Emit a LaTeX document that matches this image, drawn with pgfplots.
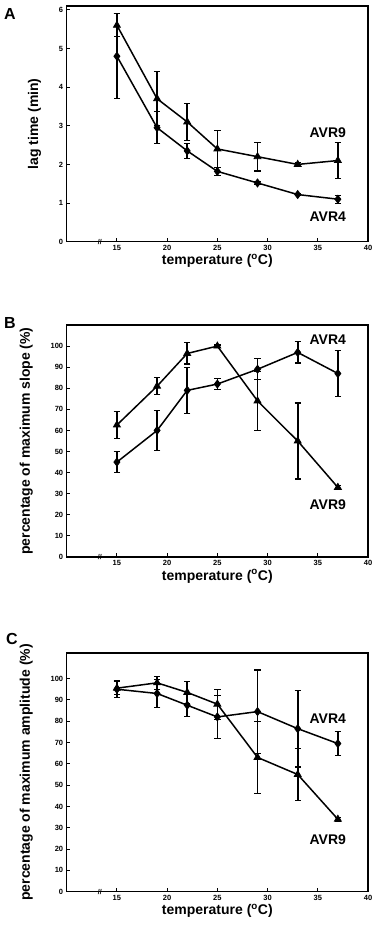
\documentclass[border=0pt]{standalone}
\usepackage{fontspec}
\setmainfont{Liberation Sans}
\usepackage{pgfplots}
\pgfplotsset{compat=1.18}
\pgfplotsset{
 panel/.style={
  scale only axis, width=301.3pt,
  xmin=10, xmax=40,
  xtick={15,20,25,30,35,40},
  tick align=inside,
  tick pos=left,
  major tick length=3.5pt,
  axis line style={line width=1.5pt},
  tick style={line width=1pt, black},
  tick label style={font=\bfseries\fontsize{7.5}{8}\selectfont},
  /pgf/number format/assume math mode=true,
  label style={font=\bfseries\fontsize{14}{16}\selectfont},
  xlabel={temperature (\textsuperscript{o}C)},
  xlabel style={yshift=3pt},
  ylabel style={yshift=11pt},
  clip=false,
 },
 ser/.style={black, line width=1.5pt, mark options={solid, fill=black, line width=0.8pt},
  error bars/y dir=both, error bars/y explicit,
  error bars/error bar style={line width=1.6pt, black},
  error bars/error mark options={rotate=90, mark size=3.2pt, line width=1.1pt, black}},
 tri/.style={ser, mark=triangle*, mark size=4pt},
 dia/.style={ser, mark=diamond*, mark size=4pt},
}
\begin{document}
\begin{tikzpicture}
\useasboundingbox (0pt,0pt) rectangle (373pt,931pt);
\node[font=\bfseries\fontsize{16}{18}\selectfont] at (10pt,917pt) {A};
\node[font=\bfseries\fontsize{16}{18}\selectfont] at (10pt,608pt) {B};
\node[font=\bfseries\fontsize{16}{18}\selectfont] at (12pt,292pt) {C};

% Panel A
\begin{axis}[panel, at={(66.7pt,689.3pt)}, anchor=south west, height=235.7pt,
  ymin=0, ymax=6.1, ytick={0,1,2,3,4,5,6}, ylabel={lag time (min)}]
\addplot[tri] coordinates {(15,5.6) +- (0,0.3) (19,3.7) +- (0,0.7) (22,3.1) +- (0,0.48) (25,2.4) +- (0,0.48) (29,2.2) +- (0,0.37) (33,2.0) +- (0,0.05) (37,2.1) +- (0,0.47)};
\addplot[dia] coordinates {(15,4.8) +- (0,1.1) (19,2.95) +- (0,0.42) (22,2.35) +- (0,0.2) (25,1.82) +- (0,0.1) (29,1.52) +- (0,0.04) (33,1.22) +- (0,0.03) (37,1.1) +- (0,0.1)};
\node[font=\bfseries\fontsize{14}{16}\selectfont] at (axis cs:36,2.81) {AVR9};
\node[font=\bfseries\fontsize{14}{16}\selectfont] at (axis cs:36,0.64) {AVR4};
\node[font=\bfseries\fontsize{7}{8}\selectfont] at (axis cs:13.3,0) {//};
\end{axis}

% Panel B
\begin{axis}[panel, at={(66.7pt,374pt)}, anchor=south west, height=232pt,
  ymin=0, ymax=110, ytick={0,10,...,100}, ylabel={percentage of maximum slope (\%)}]
\addplot[tri] coordinates {(15,62.6) +- (0,6.5) (19,81) +- (0,4) (22,96.5) +- (0,5) (25,100) +- (0,0.5) (29,74) +- (0,14) (33,55) +- (0,18) (37,33) +- (0,1)};
\addplot[dia] coordinates {(15,45) +- (0,5) (19,60) +- (0,9.5) (22,79) +- (0,11) (25,82) +- (0,2.5) (29,89) +- (0,5) (33,97) +- (0,5) (37,87) +- (0,11)};
\node[font=\bfseries\fontsize{14}{16}\selectfont] at (axis cs:36,102.8) {AVR4};
\node[font=\bfseries\fontsize{14}{16}\selectfont] at (axis cs:36,24.6) {AVR9};
\node[font=\bfseries\fontsize{7}{8}\selectfont] at (axis cs:13.3,0) {//};
\end{axis}

% Panel C
\begin{axis}[panel, at={(66.7pt,39.3pt)}, anchor=south west, height=238.7pt,
  ymin=0, ymax=112, ytick={0,10,...,100}, ylabel={percentage of maximum amplitude (\%)}]
\addplot[dia] coordinates {(15,95) +- (0,4) (19,93) +- (0,6.5) (22,87.5) +- (0,5.5) (25,82) +- (0,10) (29,84.5) +- (0,19.5) (33,76.5) +- (0,18) (37,69.5) +- (0,5.5)};
\addplot[tri] coordinates {(15,95.5) +- (0,3) (19,98) +- (0,3) (22,93.5) +- (0,5) (25,88) +- (0,7) (29,63) +- (0,17) (33,55) +- (0,12) (37,34) +- (0,1)};
\node[font=\bfseries\fontsize{14}{16}\selectfont] at (axis cs:36,81) {AVR4};
\node[font=\bfseries\fontsize{14}{16}\selectfont] at (axis cs:36,24.5) {AVR9};
\node[font=\bfseries\fontsize{7}{8}\selectfont] at (axis cs:13.3,0) {//};
\end{axis}
\end{tikzpicture}
\end{document}
